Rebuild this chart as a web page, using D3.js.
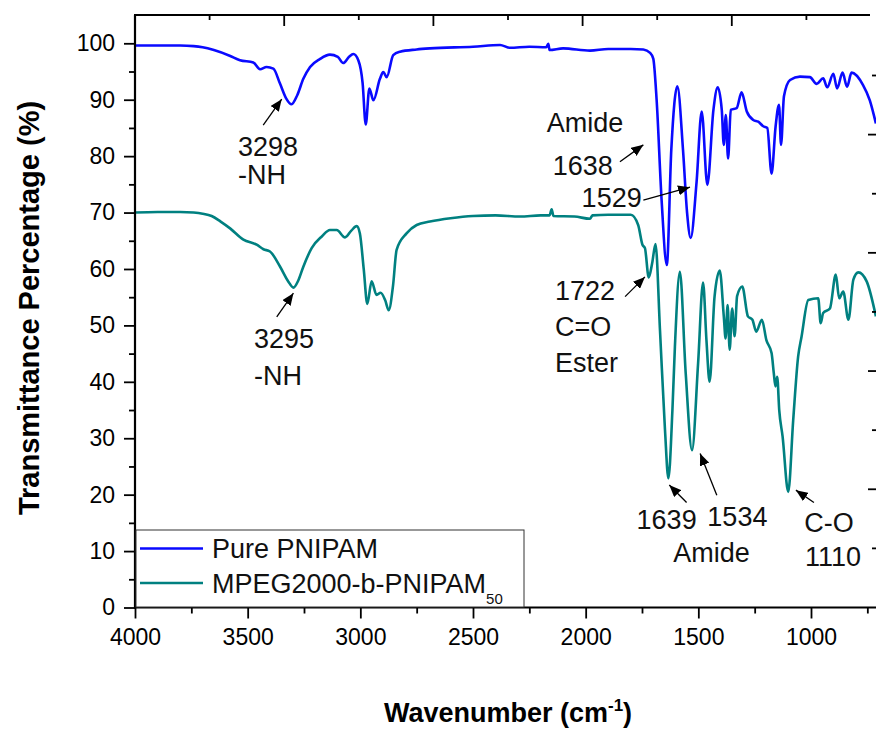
<!DOCTYPE html>
<html>
<head>
<meta charset="utf-8">
<script src="https://cdn.jsdelivr.net/npm/d3@7"></script>
<style>
  body { margin: 0; background: #fff; }
  svg { display: block; font-family: "Liberation Sans", Arial, sans-serif; }
</style>
</head>
<body>
<script>
// FTIR spectra, values
var pureWavenumber = [4000, 3900, 3800, 3740, 3700, 3650, 3580, 3534, 3475, 3445, 3416, 3386, 3357, 3330, 3305, 3280, 3253, 3223, 3180, 3135, 3100, 3076, 3050, 3031, 3009, 2990, 2976, 2960, 2942, 2913, 2898, 2883, 2854, 2824, 2750, 2691, 2500, 2380, 2336, 2250, 2175, 2166, 2160, 2100, 1981, 1900, 1800, 1744, 1714, 1700, 1685, 1663, 1640, 1620, 1593, 1568, 1550, 1534, 1508, 1485, 1460, 1433, 1414, 1396, 1387, 1378, 1368, 1356, 1330, 1308, 1285, 1256, 1234, 1212, 1194, 1175, 1157, 1142, 1133, 1120, 1093, 1049, 1005, 975, 946, 928, 901, 884, 860, 840, 820, 769, 739, 712];
var pureTransmittance = [99.6, 99.6, 99.6, 99.5, 99.3, 98.8, 97.8, 97.0, 96.6, 95.4, 95.8, 95.5, 92.9, 90.3, 89.2, 90.8, 93.7, 95.8, 97.2, 98.0, 97.6, 96.5, 97.6, 98.1, 97.0, 93.0, 85.6, 92.0, 89.9, 93.7, 94.9, 94.0, 97.9, 98.5, 98.9, 99.1, 99.4, 99.7, 99.2, 99.4, 99.3, 99.9, 98.8, 99.1, 98.7, 99.0, 99.0, 98.9, 98.3, 97.3, 89.9, 72.2, 60.7, 81.1, 92.4, 81.1, 70.0, 65.5, 75.3, 87.9, 74.9, 88.2, 92.2, 88.2, 82.0, 87.3, 79.6, 88.2, 88.5, 91.3, 87.9, 86.4, 86.1, 85.3, 85.0, 76.9, 85.3, 89.1, 82.0, 90.6, 93.5, 94.1, 94.0, 92.8, 93.8, 92.2, 94.6, 92.0, 94.8, 92.3, 94.8, 92.6, 89.9, 85.8];

var blockWavenumber = [4000, 3900, 3800, 3740, 3700, 3660, 3620, 3578, 3519, 3460, 3430, 3401, 3356, 3320, 3297, 3275, 3253, 3216, 3170, 3135, 3105, 3068, 3040, 3016, 3002, 2985, 2969, 2950, 2928, 2910, 2890, 2874, 2855, 2839, 2795, 2750, 2691, 2600, 2500, 2400, 2291, 2200, 2160, 2151, 2143, 2050, 1981, 1970, 1900, 1800, 1767, 1748, 1737, 1720, 1705, 1690, 1670, 1648, 1633, 1615, 1604, 1582, 1556, 1528, 1501, 1479, 1464, 1450, 1428, 1405, 1387, 1379, 1370, 1361, 1350, 1339, 1328, 1305, 1280, 1260, 1243, 1218, 1198, 1175, 1165, 1158, 1150, 1141, 1126, 1101, 1079, 1057, 1042, 1012, 968, 957, 946, 916, 890, 875, 857, 834, 812, 790, 753, 712];
var blockTransmittance = [70.0, 70.1, 70.1, 70.0, 69.8, 69.4, 68.4, 67.2, 65.2, 64.3, 63.5, 63.1, 60.4, 57.8, 56.7, 58.0, 60.4, 63.7, 65.8, 66.9, 66.9, 65.6, 66.8, 67.6, 66.3, 60.0, 53.8, 57.8, 55.4, 55.8, 54.5, 52.7, 57.0, 63.4, 66.3, 67.8, 68.4, 69.0, 69.4, 69.5, 69.3, 69.5, 69.5, 70.6, 69.4, 69.3, 68.9, 69.5, 69.6, 69.6, 67.8, 64.3, 63.7, 58.5, 61.0, 64.4, 49.0, 31.5, 22.9, 35.0, 46.2, 59.5, 41.5, 27.9, 43.3, 57.6, 47.4, 40.0, 55.1, 59.7, 51.6, 47.7, 53.6, 45.7, 53.0, 48.1, 55.2, 56.9, 51.6, 51.0, 48.9, 51.0, 47.4, 45.1, 41.5, 39.2, 40.9, 35.0, 30.3, 20.5, 33.2, 44.5, 48.0, 54.5, 54.8, 50.4, 52.2, 53.0, 59.0, 54.8, 56.0, 51.0, 58.1, 59.4, 57.8, 51.6];

var seriesNames = ["Pure PNIPAM", "MPEG2000-b-PNIPAM"];
var seriesColors = ["#0a0aff", "#008080"];

var xMajorTicks = [4000, 3500, 3000, 2500, 2000, 1500, 1000];
var xMinorTicks = [3750, 3250, 2750, 2250, 1750, 1250, 750];
var yMajorTicks = [0, 10, 20, 30, 40, 50, 60, 70, 80, 90, 100];
var yMinorTicks = [5, 15, 25, 35, 45, 55, 65, 75, 85, 95];

// peak labels: [text, wavenumber, transmittance]
var peakLabels = [
  ["3298", 3543, 80.0], ["-NH", 3543, 75.0],
  ["3295", 3472, 46.0], ["-NH", 3472, 39.4],
  ["Amide", 2173, 84.2], ["1638", 2146, 76.7], ["1529", 2018, 71.0],
  ["1722", 2136, 54.5], ["C=O", 2136, 48.1], ["Ester", 2136, 41.7],
  ["1639", 1774, 13.9], ["1534", 1460, 14.5], ["Amide", 1611, 8.1],
  ["C-O", 1030, 13.4], ["1110", 1027, 7.4]
];
// arrows: [from wn, from T, to wn, to T]
var peakArrows = [
  [3431, 85.5, 3349, 90.1],
  [3371, 51.5, 3297, 55.7],
  [1848, 79.0, 1744, 82.0],
  [1744, 72.2, 1537, 74.5],
  [1825, 55.1, 1737, 58.6],
  [1552, 18.6, 1629, 21.7],
  [1418, 19.9, 1492, 27.3],
  [987, 18.6, 1067, 20.8]
];

var width = 876, height = 729;
var plotLeft = 135, plotRight = 876, plotTop = 15, plotBottom = 607.5;

var x = d3.scaleLinear().domain([4000, 1000]).range([135, 811]);
var y = d3.scaleLinear().domain([0, 100]).range([607.5, 43.3]);

var svg = d3.select("body").append("svg")
    .attr("width", width)
    .attr("height", height);

svg.append("clipPath").attr("id", "plotclip")
  .append("rect")
    .attr("x", plotLeft).attr("y", plotTop)
    .attr("width", plotRight - plotLeft).attr("height", plotBottom - plotTop);

// spectra
var line = d3.line()
    .x(function(d) { return x(d[0]); })
    .y(function(d) { return y(d[1]); })
    .curve(d3.curveMonotoneX);

var spectra = [d3.zip(pureWavenumber, pureTransmittance), d3.zip(blockWavenumber, blockTransmittance)];

svg.append("g").attr("clip-path", "url(#plotclip)")
  .selectAll("path")
  .data(spectra)
  .enter().append("path")
    .attr("d", line)
    .attr("fill", "none")
    .attr("stroke", function(d, i) { return seriesColors[i]; })
    .attr("stroke-width", 2.6)
    .attr("stroke-linejoin", "round");

// axes
svg.append("g")
    .attr("transform", "translate(0," + plotBottom + ")")
    .call(d3.axisBottom(x).tickValues(xMajorTicks).tickSize(11).tickPadding(10).tickSizeOuter(0).tickFormat(d3.format("d")));
svg.append("g")
    .attr("transform", "translate(0," + plotBottom + ")")
    .call(d3.axisBottom(x).tickValues(xMinorTicks).tickSize(6).tickFormat("").tickSizeOuter(0));

svg.append("g")
    .attr("transform", "translate(" + plotLeft + ",0)")
    .call(d3.axisLeft(y).tickValues(yMajorTicks).tickSize(11).tickPadding(9).tickSizeOuter(0));
svg.append("g")
    .attr("transform", "translate(" + plotLeft + ",0)")
    .call(d3.axisLeft(y).tickValues(yMinorTicks).tickSize(6).tickFormat("").tickSizeOuter(0));

svg.selectAll(".domain").remove();
svg.selectAll(".tick line").attr("stroke", "#000").attr("stroke-width", 1.8);
svg.selectAll(".tick text")
    .attr("font-size", 23)
    .attr("fill", "#000")
    .attr("font-family", "Liberation Sans, Arial, sans-serif");

// top ticks (inward) and right ticks as in the original frame
var topScale = d3.scaleLinear().domain([0, 10]).range([135, 881]);
svg.append("g").selectAll("line")
  .data(d3.range(1, 10))
  .enter().append("line")
    .attr("x1", function(d) { return topScale(d); })
    .attr("x2", function(d) { return topScale(d); })
    .attr("y1", plotTop)
    .attr("y2", function(d) { return plotTop + (d % 2 === 0 ? 11 : 5); })
    .attr("stroke", "#000").attr("stroke-width", 1.8);

var rightScale = d3.scaleLinear().domain([0, 9]).range([plotBottom, 75.5]);
svg.append("g").selectAll("line")
  .data(d3.range(1, 10))
  .enter().append("line")
    .attr("x1", function(d) { return plotRight - (d % 2 === 0 ? 8 : 4); })
    .attr("x2", plotRight)
    .attr("y1", function(d) { return rightScale(d); })
    .attr("y2", function(d) { return rightScale(d); })
    .attr("stroke", "#000").attr("stroke-width", 1.8);

svg.append("line").attr("x1", plotLeft).attr("x2", plotLeft).attr("y1", plotTop).attr("y2", plotBottom + 1)
    .attr("stroke", "#000").attr("stroke-width", 2.2);
svg.append("line").attr("x1", plotLeft - 1).attr("x2", plotRight).attr("y1", plotBottom).attr("y2", plotBottom)
    .attr("stroke", "#000").attr("stroke-width", 2.2);
svg.append("line").attr("x1", plotLeft - 1).attr("x2", 870).attr("y1", plotTop).attr("y2", plotTop)
    .attr("stroke", "#000").attr("stroke-width", 2.2);

// axis titles
svg.append("text")
    .attr("transform", "translate(39,308) rotate(-90)")
    .attr("text-anchor", "middle")
    .attr("font-size", 29)
    .attr("font-weight", "bold")
    .text("Transmittance Percentage (%)");

var xt = svg.append("text")
    .attr("x", 508).attr("y", 722)
    .attr("text-anchor", "middle")
    .attr("font-size", 27)
    .attr("font-weight", "bold");
xt.append("tspan").text("Wavenumber (cm");
xt.append("tspan").attr("font-size", 17).attr("dy", -11).text("-1");
xt.append("tspan").attr("dy", 11).text(")");

// peak annotations
svg.append("defs").append("marker")
    .attr("id", "head")
    .attr("viewBox", "0 0 12 10")
    .attr("refX", 12).attr("refY", 5)
    .attr("markerWidth", 12).attr("markerHeight", 10)
    .attr("markerUnits", "userSpaceOnUse")
    .attr("orient", "auto")
  .append("path")
    .attr("d", "M0,0L12,5L0,10Z")
    .attr("fill", "#000");

svg.append("g").selectAll("line")
  .data(peakArrows)
  .enter().append("line")
    .attr("x1", function(d) { return x(d[0]); })
    .attr("y1", function(d) { return y(d[1]); })
    .attr("x2", function(d) { return x(d[2]); })
    .attr("y2", function(d) { return y(d[3]); })
    .attr("stroke", "#000")
    .attr("stroke-width", 1.3)
    .attr("marker-end", "url(#head)");

svg.append("g").selectAll("text")
  .data(peakLabels)
  .enter().append("text")
    .attr("x", function(d) { return x(d[1]); })
    .attr("y", function(d) { return y(d[2]); })
    .attr("font-size", 27)
    .attr("fill", "#111")
    .text(function(d) { return d[0]; });

// legend
var legend = svg.append("g");
legend.append("rect")
    .attr("x", 136).attr("y", 530)
    .attr("width", 388).attr("height", 77)
    .attr("fill", "#fff")
    .attr("stroke", "#333")
    .attr("stroke-width", 1);

var rows = legend.selectAll("g.row")
  .data(seriesNames)
  .enter().append("g")
    .attr("class", "row")
    .attr("transform", function(d, i) { return "translate(0," + (548.5 + i * 34.5) + ")"; });

rows.append("line")
    .attr("x1", 140).attr("x2", 203)
    .attr("stroke", function(d, i) { return seriesColors[i]; })
    .attr("stroke-width", 2.6);

var lt = rows.append("text")
    .attr("x", 212).attr("y", 9.5)
    .attr("font-size", 27)
    .attr("fill", "#111")
    .text(function(d) { return d; });
lt.filter(function(d, i) { return i === 1; })
  .append("tspan").attr("font-size", 15).attr("dy", 11).text("50");
</script>
</body>
</html>
